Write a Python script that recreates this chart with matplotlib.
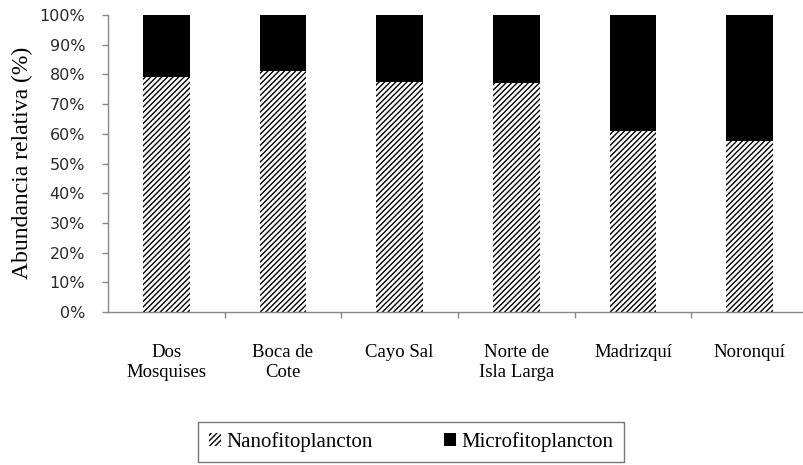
import matplotlib
matplotlib.use("Agg")
import matplotlib.pyplot as plt
import numpy as np
from matplotlib.ticker import FuncFormatter

sites = ["Dos\nMosquises", "Boca de\nCote", "Cayo Sal", "Norte de\nIsla Larga", "Madrizquí", "Noronquí"]
nano = [79.0, 81.0, 77.5, 77.0, 61.0, 57.5]
micro = [100 - v for v in nano]
yticks = list(range(0, 101, 10))

plt.rcParams['hatch.linewidth'] = 1.0
plt.rcParams['hatch.color'] = 'black'

fig = plt.figure(figsize=(8.04, 4.65), dpi=100)
ax = fig.add_axes([108/804, 153/465, 700/804, 297/465])

x = np.arange(len(sites))
w = 0.40
ax.bar(x, nano, width=w, color='white', edgecolor='black', linewidth=0, hatch='//////', label='Nanofitoplancton')
ax.bar(x, micro, bottom=nano, width=w, color='black', edgecolor='black', linewidth=0, label='Microfitoplancton')

ax.set_xlim(-0.5, len(sites) - 0.5)
ax.set_ylim(0, 100)
ax.set_yticks(yticks)
ax.yaxis.set_major_formatter(FuncFormatter(lambda v, p: f"{int(v)}%"))
ax.set_xticks(x)
ax.set_xticklabels(sites, fontsize=13.5, family='Liberation Serif', linespacing=1.2, va='top')
ax.set_xticks(np.arange(len(sites)) + 0.5, minor=True)
ax.tick_params(axis='x', which='major', length=0, pad=23)
ax.tick_params(axis='x', which='minor', length=4.5, color='#888888', width=1, direction='out')
ax.tick_params(axis='y', length=4.5, color='#888888', width=1, labelsize=11.5, pad=12)
for lab in ax.get_yticklabels():
    lab.set_family('DejaVu Sans')
    lab.set_color('#2a2a2a')

for s in ['top', 'right']:
    ax.spines[s].set_visible(False)
for s in ['left', 'bottom']:
    ax.spines[s].set_color('#888888')
    ax.spines[s].set_linewidth(1.0)

fig.text(22/804, 1 - 163/465, "Abundancia relativa (%)", rotation=90, va='center', ha='center',
         fontsize=17, family='Liberation Serif')

leg = fig.legend(loc='center', bbox_to_anchor=(411/804, 1 - 442/465), ncol=2,
                 prop={'family': 'Liberation Serif', 'size': 15},
                 handlelength=0.6, handleheight=0.6, handletextpad=0.25, columnspacing=3.4,
                 frameon=True, fancybox=False, borderpad=0.5, borderaxespad=0)
leg.get_frame().set_edgecolor('#555555')
leg.get_frame().set_linewidth(1.0)

fig.savefig("out.png", dpi=100)
